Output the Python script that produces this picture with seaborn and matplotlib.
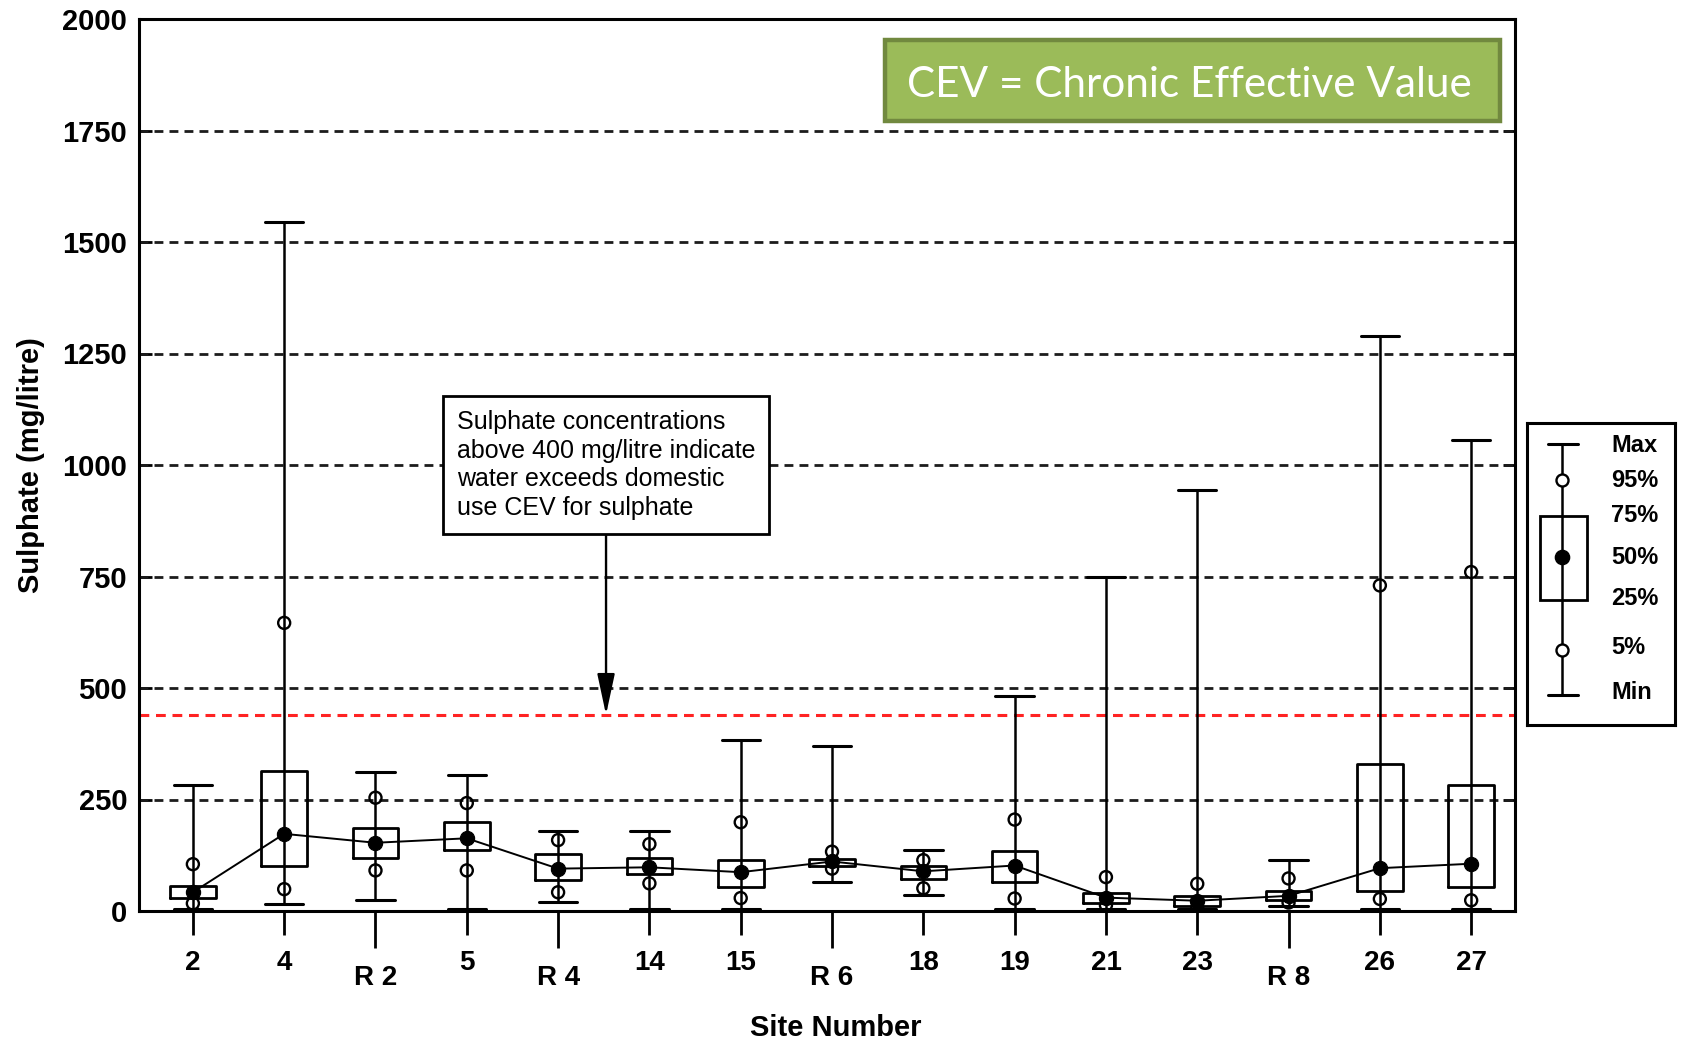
import numpy as np
import matplotlib
matplotlib.use("Agg")
import matplotlib.pyplot as plt
from matplotlib.patches import Rectangle
import seaborn as sns

# Sulphate statistics per monitoring site (mg/litre)
sites = ["2", "4", "R 2", "5", "R 4", "14", "15", "R 6", "18", "19",
         "21", "23", "R 8", "26", "27"]
minimum = [5, 15, 24, 5, 21, 5, 5, 64, 36, 5, 5, 4, 11, 5, 5]
pct5 = [17, 49, 91, 91, 42, 62, 29, 95, 51, 28, 13, 8, 19, 27, 24]
pct25 = [30, 100, 119, 136, 70, 83, 53, 102, 72, 66, 19, 11, 24, 45, 53]
median = [42, 173, 153, 163, 95, 98, 87, 111, 89, 102, 30, 23, 34, 96, 106]
pct75 = [55, 314, 186, 199, 127, 119, 115, 117, 102, 134, 40, 34, 45, 330, 282]
pct95 = [105, 646, 254, 242, 159, 150, 199, 133, 114, 205, 76, 61, 73, 730, 760]
maximum = [283, 1545, 311, 305, 180, 180, 383, 371, 136, 483, 750, 945, 114, 1290, 1055]

cev_limit = 440
y_ticks = list(range(0, 2001, 250))
note_text = ("Sulphate concentrations\nabove 400 mg/litre indicate\n"
             "water exceeds domestic\nuse CEV for sulphate")
cev_text = "CEV = Chronic Effective Value"
key_labels = ["Max", "95%", "75%", "50%", "25%", "5%", "Min"]

sns.set_theme(style="white")
plt.rcParams["font.family"] = ["Liberation Sans", "DejaVu Sans"]

W, H = 1683, 1043
fig = plt.figure(figsize=(W / 100, H / 100), dpi=100)
fig.patch.set_facecolor("white")
ax = fig.add_axes([139 / W, 1 - 911 / H, (1515 - 139) / W, (911 - 19) / H])

pos = np.arange(len(sites))
lw_box = 2.0
lw_wh = 1.8

# boxes and min/max caps
stats = [dict(med=m, q1=a, q3=b, whislo=lo, whishi=hi, fliers=[])
         for m, a, b, lo, hi in zip(median, pct25, pct75, minimum, maximum)]
ax.bxp(stats, positions=pos, widths=0.5, capwidths=0.42, showfliers=False,
       manage_ticks=False,
       boxprops=dict(color="black", lw=lw_box),
       whiskerprops=dict(color="black", lw=lw_wh),
       capprops=dict(color="black", lw=2.2),
       medianprops=dict(linestyle="none"), zorder=4)
# whisker continues through the box
ax.vlines(pos, pct25, pct75, color="black", lw=lw_wh, zorder=4)

# line joining the medians, median dots and 5th/95th percentile circles
sns.lineplot(x=pos, y=median, color="black", lw=1.4, ax=ax, zorder=5)
sns.scatterplot(x=pos, y=median, color="black", edgecolor="black", s=105,
                ax=ax, zorder=6)
sns.scatterplot(x=np.concatenate([pos, pos]), y=pct5 + pct95, marker="o",
                facecolor="none", edgecolor="black", linewidth=1.7, s=75,
                ax=ax, zorder=6)

# reference lines
dash = (0, (3.2, 2.2))
for v in y_ticks[1:-1]:
    ax.axhline(v, color="#1c1c1c", lw=2.0, ls=dash, zorder=1)
ax.axhline(cev_limit, color="#ff2323", lw=2.2, ls=dash, zorder=2)

ax.set_xlim(-0.59, 14.48)
ax.set_ylim(0, 2000)
ax.set_yticks(y_ticks)
ax.set_yticklabels([str(v) for v in y_ticks])

num_idx = [i for i, s in enumerate(sites) if not s.startswith("R")]
r_idx = [i for i, s in enumerate(sites) if s.startswith("R")]
ax.set_xticks(num_idx, [sites[i] for i in num_idx])
ax.set_xticks(r_idx, [sites[i] for i in r_idx], minor=True)

ax.tick_params(axis="x", which="major", direction="out", length=17, width=2,
               pad=11, labelsize=20, bottom=True, top=False, color="black",
               labelcolor="black")
ax.tick_params(axis="x", which="minor", direction="out", length=26.5, width=2,
               pad=12.5, labelsize=20, bottom=True, top=False, color="black",
               labelcolor="black")
ax.tick_params(axis="y", which="major", direction="in", length=9, width=2,
               pad=8.5, labelsize=21, left=True, right=True, color="black",
               labelcolor="black")
for lbl in (ax.get_xticklabels(which="both") + ax.get_yticklabels()):
    lbl.set_fontweight("bold")

for s in ax.spines.values():
    s.set_color("black")
    s.set_linewidth(2.2)
    s.set_visible(True)

ax.set_ylabel("Sulphate (mg/litre)", fontsize=21, fontweight="bold",
              color="black")
ax.yaxis.set_label_coords(-0.068, 0.5)
ax.set_xlabel("Site Number", fontsize=21, fontweight="bold", color="black")
ax.xaxis.set_label_coords(0.506, -0.115)

# explanatory note with arrow pointing at the CEV line
note = ax.annotate(note_text, xy=(4.525, cev_limit), xytext=(4.525, 1000),
                   textcoords="data", ha="center", va="center",
                   multialignment="left", fontsize=18, color="black",
                   linespacing=1.25,
                   bbox=dict(boxstyle="square,pad=0.55", fc="white",
                             ec="black", lw=2.0),
                   arrowprops=dict(arrowstyle="-|>,head_length=1.4,head_width=0.3",
                                   color="black", lw=1.7, shrinkA=0,
                                   shrinkB=0),
                   zorder=8)

# key explaining the box symbols
lg = fig.add_axes([1527 / W, (H - 725) / H, (1675 - 1527) / W, (725 - 423) / H])
lg.set_xlim(0, 1)
lg.set_ylim(0, 1)
lg.set_xticks([])
lg.set_yticks([])
lg.set_facecolor("white")
for s in lg.spines.values():
    s.set_color("black")
    s.set_linewidth(2.2)
    s.set_visible(True)
kx = 0.236
k_max, k_95, k_75, k_50, k_25, k_5, k_min = 0.930, 0.811, 0.692, 0.556, 0.414, 0.248, 0.099
lg.plot([kx, kx], [k_min, k_max], color="black", lw=lw_wh, zorder=2)
lg.plot([0.142, 0.345], [k_max, k_max], color="black", lw=2.2)
lg.plot([0.142, 0.345], [k_min, k_min], color="black", lw=2.2)
lg.add_patch(Rectangle((0.088, k_25), 0.317, k_75 - k_25, fill=False,
                       ec="black", lw=lw_box))
lg.scatter([kx], [k_50], color="black", s=105, zorder=4)
lg.scatter([kx, kx], [k_95, k_5], facecolor="white", edgecolor="black",
           linewidth=1.7, s=75, zorder=4)
for lab, yy in zip(key_labels, [0.927, 0.811, 0.695, 0.556, 0.42, 0.255, 0.106]):
    lg.text(0.568, yy, lab, ha="left", va="center", fontsize=17,
            fontweight="bold", color="black")

# green definition banner
fig.patches.append(Rectangle((885 / W, 1 - 121 / H), (1500 - 885) / W, 81 / H,
                             transform=fig.transFigure, fc="#9BBB59",
                             ec="#71893F", lw=3.2, zorder=5))
cev = fig.text(1189 / W, 1 - 97 / H, cev_text, ha="center", va="baseline",
               fontsize=30, color="white", family=["Lato", "DejaVu Sans"],
               zorder=6)

# fit the banner text to its width
fig.canvas.draw()
r = fig.canvas.get_renderer()
w = cev.get_window_extent(r).width
cev.set_fontsize(30 * 564 / w)

fig.savefig("out.png", dpi=100, facecolor="white")
